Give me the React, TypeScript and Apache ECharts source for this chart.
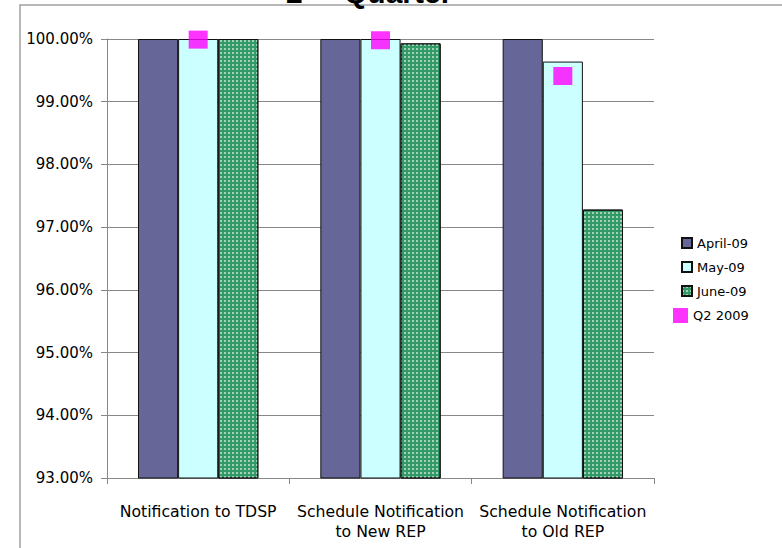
import React, { useEffect, useRef } from "react";
import * as echarts from "echarts";

const categories = ["Notification to TDSP", "Schedule Notification\nto New REP", "Schedule Notification\nto Old REP"];
const april09 = [100, 100, 100];
const may09 = [100, 100, 99.64];
const june09 = [100, 99.93, 97.28];
const q22009 = [99.99, 99.98, 99.41];
const yTicks = { min: 93, max: 100, interval: 1 };

const FONT = "DejaVu Sans";
const TFONT = "Liberation Sans";

export default function App() {
  const ref = useRef<HTMLDivElement>(null);
  useEffect(() => {
    const chart = echarts.init(ref.current!, undefined, { renderer: "svg" });
    chart.setOption({
      animation: false,
      backgroundColor: "#ffffff",
      textStyle: { fontFamily: FONT },
      grid: { left: 107, right: 128, top: 39, bottom: 70 },
      graphic: [
        { type: "rect", shape: { x: 20, y: 5, width: 780, height: 600 }, style: { fill: "none", stroke: "#a0a0a0", lineWidth: 1.5 }, silent: true },
        { type: "text", x: 286, y: 7, style: { text: "2", font: `bold 30px "${TFONT}"`, fill: "#000", verticalAlign: "bottom" } },
        { type: "text", x: 304, y: -4, style: { text: "nd", font: `bold 18px "${TFONT}"`, fill: "#000", verticalAlign: "bottom" } },
        { type: "text", x: 344, y: 7, style: { text: "Quarter", font: `bold 30px "${TFONT}"`, fill: "#000", verticalAlign: "bottom" } },
      ],
      legend: [
        {
          data: ["April-09", "May-09", "June-09"],
          orient: "vertical",
          left: 676,
          top: 231,
          itemWidth: 10,
          itemHeight: 10,
          itemGap: 10,
          icon: "rect",
          textStyle: { fontSize: 13, lineHeight: 14, color: "#000", fontFamily: FONT },
        },
        {
          data: ["Q2 2009"],
          orient: "vertical",
          left: 668,
          top: 303,
          itemWidth: 15,
          itemHeight: 15,
          icon: "rect",
          textStyle: { fontSize: 13, lineHeight: 14, color: "#000", fontFamily: FONT },
        },
      ],
      xAxis: {
        type: "category",
        data: categories,
        axisLine: { lineStyle: { color: "#888888", width: 1 } },
        axisTick: { show: true, length: 6, lineStyle: { color: "#888888" } },
        axisLabel: { color: "#000", fontSize: 15.7, lineHeight: 20, margin: 23, fontFamily: FONT, interval: 0 },
      },
      yAxis: {
        type: "value",
        min: yTicks.min,
        max: yTicks.max,
        interval: yTicks.interval,
        axisLine: { show: true, lineStyle: { color: "#888888" } },
        axisTick: { show: true, length: 6, lineStyle: { color: "#888888" } },
        splitLine: { lineStyle: { color: "#888888", width: 1 } },
        axisLabel: { color: "#000", fontSize: 15, margin: 14, fontFamily: FONT, formatter: (v: number) => v.toFixed(2) + "%" },
      },
      series: [
        {
          name: "April-09",
          type: "bar",
          data: april09,
          barGap: "0%",
          barCategoryGap: "34%",
          itemStyle: { color: "#666699", borderColor: "#111", borderWidth: 1 },
        },
        {
          name: "May-09",
          type: "bar",
          data: may09,
          itemStyle: { color: "#ccffff", borderColor: "#111", borderWidth: 1 },
        },
        {
          name: "June-09",
          type: "bar",
          data: june09,
          itemStyle: {
            color: "#339966",
            borderColor: "#111",
            borderWidth: 1,
            decal: {
              symbol: "rect",
              symbolSize: 1,
              color: "rgba(255,255,255,0.55)",
              dashArrayX: [2, 2],
              dashArrayY: [2, 2],
              rotation: 0,
            },
          },
        },
        {
          name: "Q2 2009",
          type: "scatter",
          data: q22009,
          symbol: "rect",
          symbolSize: [19, 18],
          itemStyle: { color: "#ff00ff" },
          z: 5,
        },
      ],
    });
    return () => chart.dispose();
  }, []);
  return <div ref={ref} style={{ position: "absolute", left: 0, top: 0, width: 782, height: 548 }} />;
}
